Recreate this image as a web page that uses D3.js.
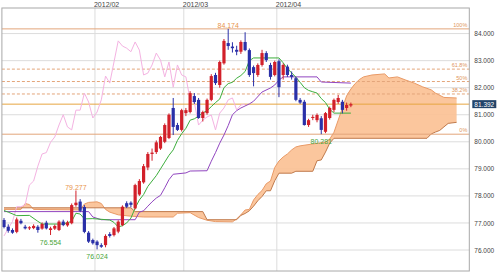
<!DOCTYPE html>
<html>
<head>
<meta charset="utf-8">
<script src="https://cdn.jsdelivr.net/npm/d3@7/dist/d3.min.js"></script>
<style>
  body { margin: 0; background: #fff; }
  text { font-family: "Liberation Sans", Arial, sans-serif; }
</style>
</head>
<body>
<div id="chart"></div>
<script>
// daily candles, 2012/01/02 .. 2012/04/25
const opens = [77.11,76.86,76.74,76.67,77.08,76.86,76.80,76.81,76.86,76.79,77.01,76.74,76.79,76.74,77.05,76.91,76.99,77.66,77.79,77.59,
  76.64,76.37,76.31,76.18,76.18,76.59,76.55,76.68,76.92,77.73,77.75,77.54,78.05,78.50,79.05,79.55,79.62,79.75,80.00,80.14,
  81.25,80.62,80.44,81.06,81.10,81.69,81.55,80.88,81.06,81.55,82.47,82.10,82.90,83.65,83.52,83.40,83.33,83.69,83.39,82.76,
  82.47,82.84,83.28,82.84,82.47,82.98,82.47,82.78,82.47,82.35,81.55,81.48,80.62,80.88,80.80,80.87,80.37,80.88,81.18,81.47,
  81.48,81.25,81.34];
const highs = [77.18,76.95,76.80,77.20,77.15,76.93,76.88,76.95,76.92,77.02,77.08,76.86,76.94,77.10,77.12,77.08,77.72,78.20,77.88,77.66,
  76.70,76.42,76.36,76.25,76.58,76.66,76.85,77.10,77.65,77.80,77.80,78.45,78.62,79.18,79.62,79.75,80.05,80.22,80.68,81.05,
  81.62,80.70,81.22,81.25,81.87,81.80,81.62,81.15,81.60,82.50,82.55,83.00,83.80,84.174,83.68,83.55,83.75,84.05,83.45,82.82,
  82.90,83.40,83.35,82.92,83.00,83.05,82.90,82.85,82.60,82.40,81.62,81.55,80.85,81.00,81.05,80.95,81.10,81.30,81.60,81.73,
  81.55,81.45,81.45];
const lows = [76.80,76.64,76.60,76.62,76.95,76.76,76.74,76.77,76.64,76.75,76.76,76.554,76.74,76.70,76.88,76.86,76.95,77.60,77.40,76.62,
  76.26,76.20,76.024,76.08,76.10,76.46,76.50,76.62,76.88,77.55,77.58,77.50,78.00,78.45,78.95,79.30,79.55,79.70,79.95,80.10,
  80.25,80.40,80.38,80.95,81.05,81.40,80.85,80.75,81.00,81.50,82.10,82.00,82.85,83.40,83.30,83.20,83.25,83.35,82.40,82.05,
  82.40,82.78,82.95,82.30,82.42,81.65,82.30,82.40,82.30,81.50,81.40,80.60,80.55,80.80,80.72,80.281,80.32,80.82,81.10,81.40,
  81.05,81.15,81.28];
const closes = [76.85,76.71,76.64,77.13,76.99,76.80,76.84,76.89,76.74,76.96,76.80,76.80,76.89,77.05,76.92,77.02,77.66,77.75,77.45,76.67,
  76.31,76.25,76.18,76.12,76.52,76.52,76.80,77.05,77.60,77.60,77.67,78.40,78.55,79.10,79.55,79.60,79.98,80.18,80.62,81.00,
  80.55,80.44,81.17,81.17,81.80,81.47,80.88,81.10,81.55,82.43,82.17,82.95,83.73,83.54,83.46,83.33,83.69,83.39,82.47,82.54,
  82.84,83.28,83.02,82.40,82.95,82.02,82.84,82.47,82.40,81.55,81.45,80.62,80.80,80.92,80.99,80.44,81.06,81.25,81.55,81.62,
  81.18,81.36,81.392];

// ichimoku lines as [index, value] vertices
const tenkan = [[0,77.46],[1,77.40],[3,77.27],[6,77.28],[8,77.06],[9,76.96],[14,76.96],[16,77.06],[17,77.36],[18,77.33],[19,77.15],
  [21,77.16],[25,77.11],[26,77.02],[27,76.85],[28,76.90],[29,77.00],[30,77.18],[31,77.55],[32,77.85],[33,78.05],[34,78.35],
  [35,78.55],[36,78.75],[37,79.00],[38,79.25],[39,79.50],[40,79.70],[41,80.05],[42,80.30],[43,80.50],[44,80.80],[45,80.85],
  [46,80.95],[47,81.07],[48,81.15],[49,81.30],[50,81.45],[51,81.58],[52,82.00],[53,82.15],[54,82.20],[55,82.35],[56,82.45],
  [57,82.60],[58,83.00],[59,83.10],[65,83.10],[66,82.92],[67,82.70],[68,82.55],[69,82.39],[70,82.20],[71,82.00],[72,81.90],
  [73,81.85],[74,81.80],[75,81.60],[76,81.45],[77,81.20],[78,81.06],[82,81.06]];
const kijun = [[0,77.42],[20,77.42],[21,77.22],[23,77.12],[31,77.12],[32,77.40],[33,77.45],[34,77.62],[35,77.78],[36,77.92],
  [37,78.02],[38,78.30],[39,78.60],[40,78.80],[43,78.85],[44,78.92],[48,78.93],[49,79.28],[50,79.60],[51,79.95],[52,80.25],
  [53,80.60],[54,81.00],[55,81.15],[56,81.25],[58,81.40],[59,81.50],[61,81.84],[63,81.99],[64,82.10],[65,82.28],[66,82.40],
  [74,82.40],[75,82.21],[82,82.17]];
const spanA = [[0,77.50],[4,77.50],[5,77.72],[6,77.68],[7,77.50],[18,77.48],[19,77.70],[20,77.76],[22,77.78],[23,77.72],
  [24,77.50],[25,77.40],[27,77.30],[30,77.25],[33,77.22],[40,77.22],[41,77.36],[44,77.38],[46,77.20],[48,77.10],[50,77.05],
  [54,77.04],[55,77.15],[56,77.30],[57,77.48],[58,77.50],[59,77.85],[60,78.05],[61,78.20],[62,78.45],[63,78.55],[64,79.05],
  [65,79.29],[66,79.44],[67,79.55],[68,79.70],[69,79.81],[70,79.85],[73,79.92],[76,79.99],[77,80.10],[78,80.35],[79,80.80],
  [80,81.25],[81,81.70],[82,81.95],[83,82.15],[84,82.30],[85,82.40],[87,82.47],[90,82.51],[91,82.36],[93,82.40],[95,82.28],
  [97,82.17],[99,82.03],[101,81.92],[102,81.80],[104,81.64],[107,81.62]];
const spanB = [[0,77.56],[30,77.56],[31,77.42],[47,77.42],[48,77.12],[55,77.12],[56,77.28],[57,77.35],[58,77.45],[59,77.62],
  [60,77.82],[61,77.98],[62,78.19],[63,78.19],[64,78.56],[65,78.84],[68,78.84],[69,78.91],[73,78.91],[74,79.30],[75,79.33],
  [76,79.62],[77,79.95],[78,80.13],[100,80.13],[101,80.29],[102,80.36],[103,80.42],[104,80.55],[105,80.68],[107,80.72]];
const chikouShift = 25;

const monthLabels = ["2012/02", "2012/03", "2012/04"];
const monthStarts = [22, 43, 65];
const yTicks = [76, 77, 78, 79, 80, 81, 82, 83, 84];
const fibLabels = ["100%", "61.8%", "50%", "38.2%", "0%"];
const fibValues = [84.174, 82.687, 82.228, 81.768, 80.281];
const lastPrice = 81.392;
const noteIndex = [53, 17, 11, 22, 75];
const noteText = ["84.174", "79.277", "76.554", "76.024", "80.281"];
const noteKind = ["high", "high", "low", "low", "low"];

let width = 499;
let height = 274;
let plotL = 1.9, plotR = 469.3, plotT = 8, plotB = 271;

let x = d3.scaleLinear().domain([-0.5, 110]).range([plotL, plotR]);
let y = d3.scaleLinear().domain([75.224, 84.946]).range([plotB, plotT]);

let svg = d3.select("#chart")
  .append("svg")
  .attr("width", width)
  .attr("height", height);

svg.append("rect").attr("width", width).attr("height", height).attr("fill", "#fff");

// grid
svg.append("g")
  .selectAll("line")
  .data(yTicks)
  .enter()
  .append("line")
  .attr("x1", plotL).attr("x2", plotR)
  .attr("y1", d => y(d)).attr("y2", d => y(d))
  .attr("stroke", "#dcdcdc").attr("stroke-width", 1);

svg.append("g")
  .selectAll("line")
  .data(monthStarts)
  .enter()
  .append("line")
  .attr("x1", d => x(d - 0.5)).attr("x2", d => x(d - 0.5))
  .attr("y1", plotT).attr("y2", plotB)
  .attr("stroke", "#dcdcdc").attr("stroke-width", 1);

svg.append("g")
  .selectAll("text")
  .data(monthLabels)
  .enter()
  .append("text")
  .attr("x", (d, i) => x(monthStarts[i] - 0.5) - 1)
  .attr("y", 6.5)
  .attr("font-size", "7px")
  .attr("fill", "#444")
  .text(d => d);

// cloud
let line = d3.line().x(d => x(d[0])).y(d => y(d[1]));
let cloud = spanA.concat(spanB.slice().reverse());
svg.append("path")
  .attr("d", line(cloud) + "Z")
  .attr("fill", "#fbc092")
  .attr("fill-opacity", 0.9)
  .attr("stroke", "none");
svg.append("path").attr("d", line(spanA)).attr("fill", "none")
  .attr("stroke", "#e99a66").attr("stroke-width", 1);
svg.append("path").attr("d", line(spanB)).attr("fill", "none")
  .attr("stroke", "#c07a4c").attr("stroke-width", 1);

// fibonacci levels
fibValues.forEach(function (v, i) {
  let solid = i == 0 || i == fibValues.length - 1;
  svg.append("line")
    .attr("x1", plotL).attr("x2", plotR)
    .attr("y1", y(v)).attr("y2", y(v))
    .attr("stroke", "#e3a57a")
    .attr("stroke-width", 1)
    .attr("stroke-dasharray", solid ? null : "3,2");
  svg.append("text")
    .attr("x", plotR - 2)
    .attr("y", y(v) - 2)
    .attr("font-size", "5.5px")
    .attr("fill", "#e09660")
    .style("text-anchor", "end")
    .text(fibLabels[i]);
});

// current price line
svg.append("line")
  .attr("x1", plotL).attr("x2", plotR)
  .attr("y1", y(lastPrice)).attr("y2", y(lastPrice))
  .attr("stroke", "#e6a640").attr("stroke-width", 1);

// chikou span
let chikou = closes.map((c, j) => [j - chikouShift, c]).filter(d => d[0] >= 0);
svg.append("path").attr("d", line(chikou)).attr("fill", "none")
  .attr("stroke", "#f4b3e2").attr("stroke-width", 1);
svg.append("path").attr("d", line(kijun)).attr("fill", "none")
  .attr("stroke", "#9146c0").attr("stroke-width", 1);
svg.append("path").attr("d", line(tenkan)).attr("fill", "none")
  .attr("stroke", "#3cae3c").attr("stroke-width", 1);

// candles
let up = "#d2202a", down = "#2a30a8";
let candles = svg.append("g");
closes.forEach(function (c, i) {
  let o = opens[i];
  let col = c >= o ? up : down;
  candles.append("line")
    .attr("x1", x(i)).attr("x2", x(i))
    .attr("y1", y(highs[i])).attr("y2", y(lows[i]))
    .attr("stroke", col).attr("stroke-width", 1);
  let yt = y(Math.max(o, c));
  let h = Math.max(1, Math.abs(y(o) - y(c)));
  candles.append("rect")
    .attr("x", x(i) - 1.6).attr("width", 3.2)
    .attr("y", yt).attr("height", h)
    .attr("fill", col);
});

// high / low notes
noteIndex.forEach(function (k, i) {
  let isHigh = noteKind[i] == "high";
  svg.append("text")
    .attr("x", x(k))
    .attr("y", isHigh ? y(highs[k]) - 0.8 : y(lows[k]) + 9.5)
    .attr("font-size", "7px")
    .attr("fill", isHigh ? "#e8944c" : "#4aa53a")
    .style("text-anchor", "middle")
    .text(noteText[i]);
});

// frame
svg.append("rect")
  .attr("x", plotL).attr("y", plotT)
  .attr("width", plotR - plotL).attr("height", plotB - plotT)
  .attr("fill", "none").attr("stroke", "#a8a8a8").attr("stroke-width", 1);

// right axis
let yAxis = d3.axisRight(y).tickValues(yTicks).tickFormat(d3.format(".3f")).tickSize(0).tickPadding(5);
let axisG = svg.append("g")
  .attr("transform", "translate(" + plotR + ",0)")
  .call(yAxis);
axisG.select(".domain").remove();
axisG.selectAll("text")
  .attr("font-size", "6.5px")
  .attr("fill", "#444")
  .style("font-family", "\"Liberation Sans\", Arial, sans-serif");

// price box
svg.append("rect")
  .attr("x", plotR + 3).attr("y", y(lastPrice) - 4)
  .attr("width", 24).attr("height", 8)
  .attr("fill", "#22446a");
svg.append("text")
  .attr("x", plotR + 15).attr("y", y(lastPrice) + 2.4)
  .attr("font-size", "6.5px")
  .attr("fill", "#fff")
  .style("text-anchor", "middle")
  .text(lastPrice.toFixed(3));
</script>
</body>
</html>
